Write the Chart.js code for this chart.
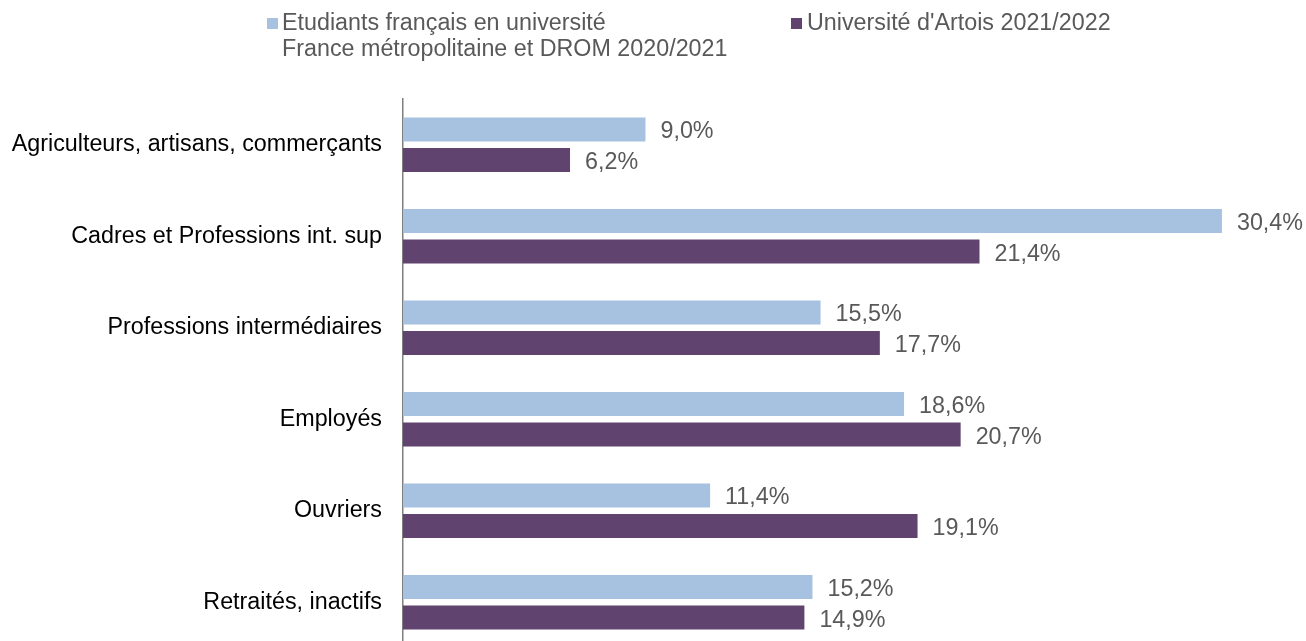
<!DOCTYPE html>
<html>
<head>
<meta charset="utf-8">
<script src="https://cdn.jsdelivr.net/npm/chart.js@4/dist/chart.umd.min.js"></script>
<style>
  html, body { margin: 0; padding: 0; background: #ffffff; overflow: hidden; }
  #wrap { width: 1306px; height: 641px; overflow: hidden; position: relative; }
  canvas { display: block; }
</style>
</head>
<body>
<div id="wrap"><canvas id="c" width="1306" height="660"></canvas></div>
<script>
const categories = [
  "Agriculteurs, artisans, commerçants",
  "Cadres et Professions int. sup",
  "Professions intermédiaires",
  "Employés",
  "Ouvriers",
  "Retraités, inactifs"
];
const nationalLabel = ["Etudiants français en université", "France métropolitaine et DROM 2020/2021"];
const artoisLabel = ["Université d'Artois 2021/2022"];
const nationalValues = [9.0, 30.4, 15.5, 18.6, 11.4, 15.2];
const artoisValues = [6.2, 21.4, 17.7, 20.7, 19.1, 14.9];

const FONT = "'Liberation Sans', Arial, sans-serif";
const FS = 23.3;
const BLUE = "#A7C2E0";
const PURPLE = "#60436E";

function fmt(v) { return v.toFixed(1).replace('.', ',') + '%'; }

const dataLabelPlugin = {
  id: 'dataLabels',
  afterDatasetsDraw(chart) {
    const ctx = chart.ctx;
    ctx.save();
    ctx.font = FS + 'px ' + FONT;
    ctx.fillStyle = '#595959';
    ctx.textAlign = 'left';
    ctx.textBaseline = 'alphabetic';
    chart.data.datasets.forEach((ds, di) => {
      const meta = chart.getDatasetMeta(di);
      meta.data.forEach((bar, i) => {
        ctx.fillText(fmt(ds.data[i]), bar.x + 15, bar.y + 9);
      });
    });
    ctx.restore();
  }
};

const legendPlugin = {
  id: 'customLegend',
  afterDraw(chart) {
    const ctx = chart.ctx;
    ctx.save();
    ctx.font = FS + 'px ' + FONT;
    ctx.textAlign = 'left';
    ctx.textBaseline = 'alphabetic';
    const items = [
      { x: 267, textX: 282 },
      { x: 791, textX: 807 }
    ];
    chart.data.datasets.forEach((ds, di) => {
      const it = items[di];
      ctx.fillStyle = ds.backgroundColor;
      ctx.fillRect(it.x, 18, 11, 11);
      ctx.fillStyle = '#595959';
      const lines = Array.isArray(ds.label) ? ds.label : [ds.label];
      lines.forEach((line, li) => {
        ctx.fillText(line, it.textX, 30 + li * 26);
      });
    });
    ctx.restore();
  }
};

new Chart(document.getElementById('c'), {
  type: 'bar',
  data: {
    labels: categories,
    datasets: [
      {
        label: nationalLabel,
        data: nationalValues,
        backgroundColor: BLUE,
        categoryPercentage: 0.667,
        barPercentage: 0.787
      },
      {
        label: artoisLabel,
        data: artoisValues,
        backgroundColor: PURPLE,
        categoryPercentage: 0.667,
        barPercentage: 0.787
      }
    ]
  },
  options: {
    indexAxis: 'y',
    responsive: false,
    animation: false,
    devicePixelRatio: 1,
    layout: { padding: { top: 99, bottom: 12, left: 0, right: 14 } },
    plugins: {
      legend: { display: false },
      tooltip: { enabled: false },
      title: { display: false }
    },
    scales: {
      x: {
        display: false,
        min: 0,
        max: 33
      },
      y: {
        afterFit(scale) {
          scale.width = 403;
          scale.paddingTop = 0;
          scale.paddingBottom = 0;
        },
        grid: { display: false, drawTicks: false },
        border: { display: true, color: '#7F7F7F', width: 1.5 },
        ticks: {
          padding: 21,
          color: '#000000',
          font: { family: FONT, size: FS }
        }
      }
    }
  },
  plugins: [dataLabelPlugin, legendPlugin]
});
</script>
</body>
</html>
